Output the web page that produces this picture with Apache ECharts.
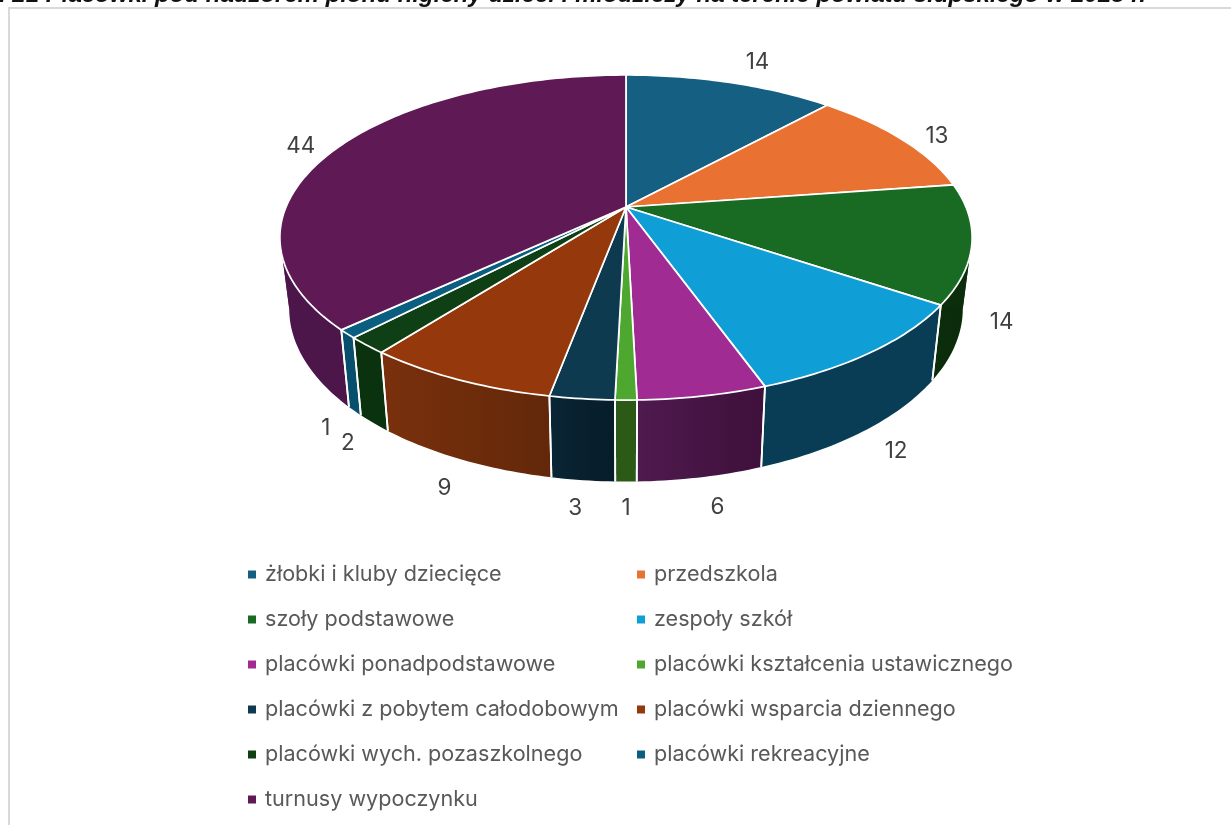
<!DOCTYPE html>
<html><head><meta charset="utf-8">
<style>html,body{margin:0;padding:0;background:#fff;overflow:hidden}#c{width:1231px;height:825px}</style>
<script src="https://cdn.jsdelivr.net/npm/echarts@6/dist/echarts.min.js"></script>
</head><body><div id="c"></div>
<script>
const categories = ['żłobki i kluby dziecięce','przedszkola','szoły podstawowe','zespoły szkół','placówki ponadpodstawowe','placówki kształcenia ustawicznego','placówki z pobytem całodobowym','placówki wsparcia dziennego','placówki wych. pozaszkolnego','placówki rekreacyjne','turnusy wypoczynku'];
const values = [14,13,14,12,6,1,3,9,2,1,44];
const topColors = ['#156082','#e97132','#196b24','#0f9ed5','#a02b93','#4ea72e','#0e3a50','#95390d','#0f3f14','#0a5f80','#5f1a55'];
const wallFrom = ['#0c3f56','#8f4520','#0c2e0c','#083d55','#4f1a4f','#2b5a17','#0a2535','#7a300c','#0b320f','#084f6d','#4d164a'];
const wallTo = ['#0c3f56','#8f4520','#0a2a0a','#083d55','#3e103a','#2b5a17','#061c29','#62280a','#0b320f','#084f6d','#4d164a'];
const labelNudge = [[27,-22],[35,-5],[39,6],[32,19],[17,28],[0,25],[-8,27],[-18,27],[-26,18],[-29,16],[-35,-4]];
const titleText = 'Ryc. 21 Placówki pod nadzorem pionu higieny dzieci i młodzieży na terenie powiatu słupskiego w 2023 r.';

const total = values.reduce((a,b)=>a+b,0);
const cx = 626, apexY = 207, A = 340, B = 156.8, k = 0.1877;
const baseScale = 0.973, baseTilt = 1.065, baseY = 276;
const frontFrom = Math.acos(-k)*180/Math.PI, frontTo = 360-frontFrom;
function rim(deg, isBase){
  const t = deg*Math.PI/180, w = 1 + k*Math.cos(t);
  const dx = A*Math.sin(t)/w, dy = -B*Math.cos(t)/w;
  return isBase ? [cx + dx*baseScale, baseY + dy*baseTilt] : [cx + dx, apexY + dy];
}
function arc(a0, a1, isBase){
  const n = Math.max(2, Math.ceil(a1-a0)), pts = [];
  for(let i=0;i<=n;i++) pts.push(rim(a0+(a1-a0)*i/n, isBase));
  return pts;
}
const lineStyle = {stroke:'#ffffff', lineWidth:1.75, lineJoin:'round'};
function drop(deg){
  return {type:'polyline', z2:5, shape:{points:[rim(deg,false),rim(deg,true)]}, style:{stroke:'#ffffff',lineWidth:1.75,fill:null}};
}
const series = categories.map((name,i)=>{
  const before = values.slice(0,i).reduce((a,b)=>a+b,0);
  return {
    type:'custom', name, coordinateSystem:'none', silent:true,
    itemStyle:{color:topColors[i]},
    data:[[values[i]]],
    renderItem(params, api){
      const v = api.value(0);
      const a0 = before/total*360, a1 = (before+v)/total*360, mid = (a0+a1)/2;
      const top = arc(a0,a1,false);
      const anchor = rim(mid, Math.cos(mid*Math.PI/180)<0);
      const children = [
        {type:'polygon', z2:10, shape:{points:[[cx,apexY]].concat(top)},
         style:Object.assign({fill:topColors[i]},lineStyle)},
        {type:'text', z2:20, style:{x:anchor[0]+labelNudge[i][0], y:anchor[1]+labelNudge[i][1]+1.5, text:String(v),
          fill:'#404040', font:'22.5px Inter', align:'center', verticalAlign:'middle'}}
      ];
      const w0 = Math.max(a0,frontFrom), w1 = Math.min(a1,frontTo);
      if(w1>w0){
        const wallTop = arc(w0,w1,false), wallBase = arc(w0,w1,true).reverse();
        children.push({type:'polygon', z2:2, shape:{points:wallTop.concat(wallBase)},
          style:{fill:{type:'linear',x:0,y:0,x2:1,y2:0,colorStops:[{offset:0,color:wallFrom[i]},{offset:1,color:wallTo[i]}]}}});
        if(a0<frontFrom && a1>frontFrom)
          children.push({type:'polygon', z2:3, shape:{points:[rim(frontFrom,true)].concat(arc(frontFrom,a1,false))}, style:{fill:wallFrom[i]}});
        if(a0<frontTo && a1>frontTo)
          children.push({type:'polygon', z2:3, shape:{points:[rim(frontTo,true)].concat(arc(a0,frontTo,false))}, style:{fill:wallFrom[i]}});
        if(a0>=frontFrom) children.push(drop(a0));
        if(a1<=frontTo) children.push(drop(a1));
      }
      return {type:'group', children};
    }
  };
});
const legendBase = {orient:'vertical', icon:'rect', itemWidth:8, itemHeight:8, itemGap:16, selectedMode:false,
  padding:0, textStyle:{color:'#595959', fontFamily:'Inter', fontSize:21.6, lineHeight:29, padding:[0,0,0,4]}};
const chart = echarts.init(document.getElementById('c'), null, {renderer:'canvas'});
chart.setOption({
  animation:false, backgroundColor:'#ffffff',
  legend:[
    Object.assign({left:248, top:560, data:categories.filter((c,i)=>i%2===0)},legendBase),
    Object.assign({left:637, top:560, data:categories.filter((c,i)=>i%2===1)},legendBase)
  ],
  graphic:[
    {type:'rect', z:-1, shape:{x:9,y:8,width:1300,height:900}, style:{fill:'#fff',stroke:'#d9d9d9',lineWidth:2}},
    {type:'text', style:{x:-45,y:-17,text:titleText,fill:'#111',font:'italic bold 24px "Liberation Sans"'}}
  ],
  series
});
</script></body></html>
